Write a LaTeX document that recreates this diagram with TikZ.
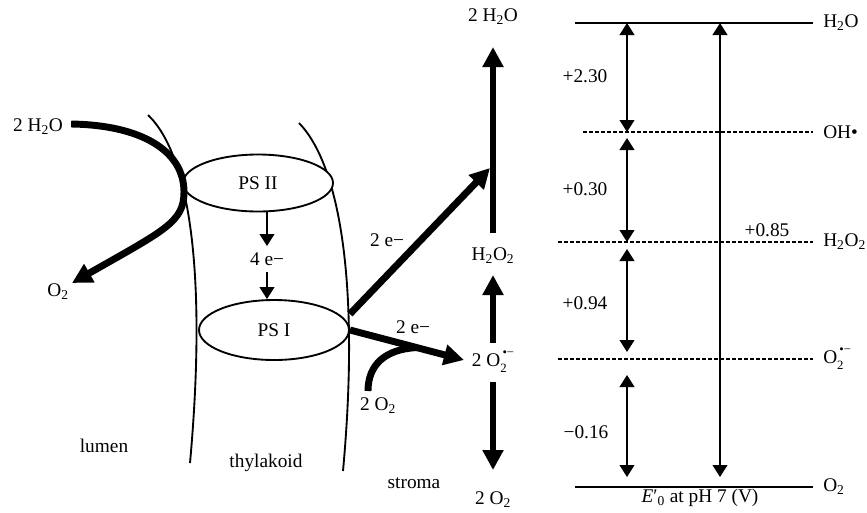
\documentclass[tikz,border=0pt]{standalone}
\usepackage{fontspec}
\setmainfont{Liberation Serif}
\usetikzlibrary{arrows.meta,shapes.geometric,calc}
\newcommand\suprad{\rlap{\raisebox{-0.32em}{\fontsize{9.5}{10}\selectfont 2}}\raisebox{0.52em}{\fontsize{9.5}{10}\selectfont \,•−}}
\begin{document}
\begin{tikzpicture}[x=0.75pt,y=-0.75pt,
  lbl/.style={font=\fontsize{14.5}{17}\selectfont, inner sep=0pt},
  psbox/.style={ellipse, draw, line width=1.4pt, minimum width=112.5pt, inner sep=0pt, font=\fontsize{14.5}{17}\selectfont},
  memline/.style={line width=1.4pt},
  tarrow/.style={line width=1.5pt, -{Triangle[width=11pt,length=9pt]}},
  darrow/.style={line width=1.5pt, {Triangle[width=11pt,length=9pt]}-{Triangle[width=11pt,length=9pt]}},
  barrow/.style={line width=5.2pt, -{Triangle[width=15pt,length=15pt]}},
  bline/.style={line width=5.2pt},
  solidlevel/.style={line width=2.2pt},
  dashlevel/.style={line width=1.1pt, dash pattern=on 3pt off 1.5pt},
]
\useasboundingbox (0,0) rectangle (867,512);

% ---------- left part ----------
\node[lbl] (h2oL) at (38,127) {2 H\textsubscript{2}O};
\node[lbl] (o2L) at (58,292) {O\textsubscript{2}};
\node[lbl] (lumen) at (104,446) {lumen};
\node[lbl] (thyl) at (266,463) {thylakoid};
\node[lbl] (stroma) at (414,483) {stroma};

% membranes
\coordinate (mLt) at (148,115);
\coordinate (mLb) at (190,463);
\coordinate (mRt) at (299,123);
\coordinate (mRb) at (343,471);
\draw[memline] (mLt) .. controls (190,155) and (207,275) .. (mLb);
\draw[memline] (mRt) .. controls (340,165) and (360,285) .. (mRb);

% photosystems
\node[psbox, minimum height=42.75pt, fill=white] (ps2) at (258,183) {PS II};
\node[psbox, minimum height=45pt, fill=white] (ps1) at (274,330) {PS I};
\node[lbl] (e4) at (267,259) {4 e−};
\draw[tarrow, shorten >=9.75pt] (ps2.south -| e4.center) -- (e4.center);
\draw[tarrow, shorten <=9.75pt] (e4.center) -- (ps1.north -| e4.center);

% water oxidation curve
\draw[barrow] ($(h2oL.east)+(8,-3)$) .. controls (140,125) and (184,150) .. (184,192)
      .. controls (184,222) and (165,230) .. ($(o2L.center)+(14,-9)$);

% ---------- right column ----------
\node[lbl] (topH2O) at (493,17) {2 H\textsubscript{2}O};
\node[lbl] (h2o2) at (493,256) {H\textsubscript{2}O\textsubscript{2}};
\node[lbl] (o2rad) at (493,362) {2 O\suprad};
\node[lbl] (o2bot) at (493,500) {2 O\textsubscript{2}};
\node[lbl] (o2in) at (378,406) {2 O\textsubscript{2}};
\node[lbl] (eA) at (387,240) {2 e−};
\node[lbl] (eB) at (413,327) {2 e−};

\draw[barrow, shorten <=17.25pt, shorten >=22.5pt] (h2o2.center) -- (topH2O.center);
\draw[barrow, shorten <=14.25pt, shorten >=14.25pt] (o2rad.center) -- (h2o2.center);
\draw[barrow, shorten <=15pt, shorten >=22.5pt] (o2rad.center) -- (o2bot.center);

\coordinate (jn) at (490,168);
\draw[barrow] ([yshift=12pt]ps1.east) -- (jn);
\draw[barrow, shorten >=6pt] (ps1.east) -- (o2rad.west);
\draw[bline] ($(o2in.center)+(-10,-15)$) .. controls (368,365) and (385,349) .. ($(ps1.east)!0.55!(o2rad.west)$);

% ---------- energy diagram ----------
\node[lbl, anchor=west] (lH2O) at (823,23) {H\textsubscript{2}O};
\node[lbl, anchor=west] (lOH) at (823,132) {OH•};
\node[lbl, anchor=west] (lH2O2) at (823,242) {H\textsubscript{2}O\textsubscript{2}};
\node[lbl, anchor=west] (lO2r) at (823,359) {O\suprad};
\node[lbl, anchor=west] (lO2) at (823,487) {O\textsubscript{2}};

\coordinate (sH2O) at (575,23);
\coordinate (sOH) at (583,132);
\coordinate (sH2O2) at (558,242);
\coordinate (sO2r) at (558,359);
\coordinate (sO2) at (575,487);

\draw[solidlevel] (sH2O) -- ([xshift=-7.5pt]lH2O.west);
\draw[dashlevel] (sOH) -- ([xshift=-7.5pt]lOH.west);
\draw[dashlevel] (sH2O2) -- ([xshift=-7.5pt]lH2O2.west);
\draw[dashlevel] (sO2r) -- ([xshift=-7.5pt]lO2r.west);
\draw[solidlevel] (sO2) -- ([xshift=-7.5pt]lO2.west);

\coordinate (a1t) at (627,23);
\coordinate (a1b) at (627,132);
\coordinate (a2t) at (627,138);
\coordinate (a2b) at (627,242);
\coordinate (a3t) at (627,249);
\coordinate (a3b) at (627,352);
\coordinate (a4t) at (627,375);
\coordinate (a4b) at (627,477);
\coordinate (bt) at (720,23);
\coordinate (bb) at (720,477);
\draw[darrow] (a1t) -- (a1b);
\draw[darrow] (a2t) -- (a2b);
\draw[darrow] (a3t) -- (a3b);
\draw[darrow] (a4t) -- (a4b);
\draw[darrow] (bt) -- (bb);

\node[lbl] (v1) at (585,76) {+2.30};
\node[lbl] (v2) at (585,189) {+0.30};
\node[lbl] (v3) at (585,303) {+0.94};
\node[lbl] (v4) at (586,432) {−0.16};
\node[lbl] (v5) at (767,230) {+0.85};
\node[lbl] (axis) at (700,498) {\textit{E}′\textsubscript{0} at pH 7 (V)};
\end{tikzpicture}
\end{document}
